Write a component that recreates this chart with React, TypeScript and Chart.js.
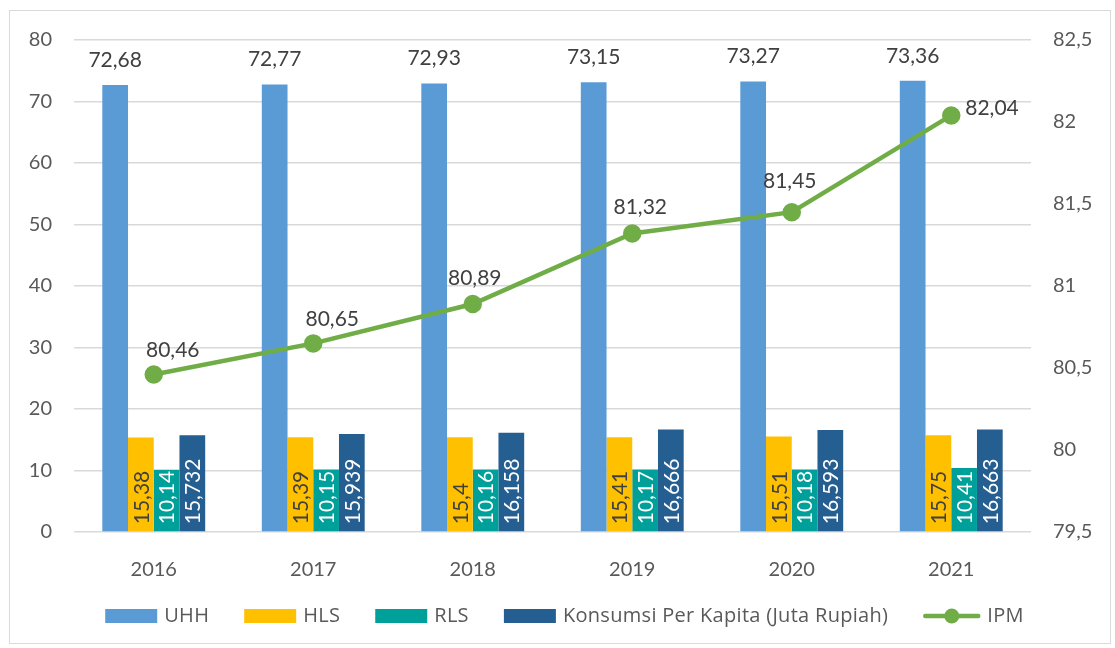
import React, { useEffect, useRef } from "react";
import { Chart, registerables } from "chart.js";
Chart.register(...registerables);

const years = ["2016", "2017", "2018", "2019", "2020", "2021"];
const uhh = [72.68, 72.77, 72.93, 73.15, 73.27, 73.36];
const hls = [15.38, 15.39, 15.4, 15.41, 15.51, 15.75];
const rls = [10.14, 10.15, 10.16, 10.17, 10.18, 10.41];
const konsumsi = [15.732, 15.939, 16.158, 16.666, 16.593, 16.663];
const ipm = [80.46, 80.65, 80.89, 81.32, 81.45, 82.04];

const leftMin = 0;
const leftMax = 80;
const leftStep = 10;
const rightMin = 79.5;
const rightMax = 82.5;
const rightStep = 0.5;

const FONT = "Lato, 'Open Sans', sans-serif";
const LEGEND_FONT = "'Open Sans', Lato, sans-serif";
const TICK_COLOR = "#595959";
const LABEL_COLOR = "#404040";

const fmt = (v: number) => String(v).replace(".", ",");

// label mode per dataset index
const labelModes = ["top", "baseDark", "baseLight", "baseLight", "line"];
// small nudges of the IPM labels (as placed in the original)
const ipmLabelDx = [19, 19, 2, 8, -2];
const ipmLabelDy = [-24, -24, -26, -26, -31];

const labelPlugin = {
  id: "valueLabels",
  afterDatasetsDraw(chart: any) {
    const ctx = chart.ctx;
    ctx.save();
    ctx.font = `21px ${FONT}`;
    chart.data.datasets.forEach((ds: any, di: number) => {
      const meta = chart.getDatasetMeta(di);
      const mode = labelModes[di];
      meta.data.forEach((el: any, i: number) => {
        const txt = fmt(ds.data[i]);
        if (mode === "top") {
          ctx.fillStyle = LABEL_COLOR;
          ctx.textAlign = "center";
          ctx.textBaseline = "middle";
          ctx.fillText(txt, el.x, el.y - 25);
        } else if (mode === "baseDark" || mode === "baseLight") {
          ctx.save();
          ctx.fillStyle = mode === "baseDark" ? LABEL_COLOR : "#ffffff";
          ctx.translate(el.x, el.base - 7);
          ctx.rotate(-Math.PI / 2);
          ctx.textAlign = "left";
          ctx.textBaseline = "middle";
          ctx.fillText(txt, 0, 1);
          ctx.restore();
        } else if (mode === "line") {
          ctx.fillStyle = LABEL_COLOR;
          ctx.textBaseline = "middle";
          if (i === meta.data.length - 1) {
            ctx.textAlign = "left";
            ctx.fillText(txt, el.x + 14, el.y - 7);
          } else {
            ctx.textAlign = "center";
            ctx.fillText(txt, el.x + (ipmLabelDx[i] ?? 0), el.y + (ipmLabelDy[i] ?? -25));
          }
        }
      });
    });
    ctx.restore();
  },
};

const legendPlugin = {
  id: "customLegend",
  afterDraw(chart: any) {
    const ctx = chart.ctx;
    ctx.save();
    ctx.font = `20px ${LEGEND_FONT}`;
    try { (ctx as any).letterSpacing = "0.3px"; } catch (e) {}
    const boxW = 52;
    const lineW = 57;
    const boxH = 14;
    const gapText = 7;
    const gapItem = 35;
    const items = chart.data.datasets.map((ds: any) => {
      const line = ds.type === "line";
      const kw = line ? lineW : boxW;
      return {
        label: ds.label,
        color: line ? ds.borderColor : ds.backgroundColor,
        line,
        kw,
        w: kw + gapText + ctx.measureText(ds.label).width,
      };
    });
    const total = items.reduce((s: number, it: any) => s + it.w, 0) + gapItem * (items.length - 1);
    let x = chart.width / 2 + 7 - total / 2;
    const y = 616;
    items.forEach((it: any) => {
      if (it.line) {
        ctx.strokeStyle = it.color;
        ctx.lineWidth = 4.5;
        ctx.lineCap = "round";
        ctx.beginPath();
        ctx.moveTo(x + 2, y);
        ctx.lineTo(x + it.kw - 2, y);
        ctx.stroke();
        ctx.fillStyle = it.color;
        ctx.beginPath();
        ctx.arc(x + it.kw / 2, y, 7.5, 0, Math.PI * 2);
        ctx.fill();
      } else {
        ctx.fillStyle = it.color;
        ctx.fillRect(x, y - boxH / 2, boxW, boxH);
      }
      ctx.fillStyle = TICK_COLOR;
      ctx.textAlign = "left";
      ctx.textBaseline = "middle";
      ctx.fillText(it.label, x + it.kw + gapText, y);
      x += it.w + gapItem;
    });
    ctx.restore();
  },
};

export default function App() {
  const ref = useRef<HTMLCanvasElement | null>(null);
  useEffect(() => {
    if (!ref.current) return;
    const chart = new Chart(ref.current, {
      type: "bar",
      data: {
        labels: years,
        datasets: [
          { type: "bar", label: "UHH", data: uhh, backgroundColor: "#5B9BD5", yAxisID: "y", order: 2 },
          { type: "bar", label: "HLS", data: hls, backgroundColor: "#FFC000", yAxisID: "y", order: 2 },
          { type: "bar", label: "RLS", data: rls, backgroundColor: "#00A09A", yAxisID: "y", order: 2 },
          { type: "bar", label: "Konsumsi Per Kapita (Juta Rupiah)", data: konsumsi, backgroundColor: "#255E91", yAxisID: "y", order: 2 },
          {
            type: "line",
            label: "IPM",
            data: ipm,
            borderColor: "#70AD47",
            backgroundColor: "#70AD47",
            borderWidth: 4.5,
            pointRadius: 7,
            pointBackgroundColor: "#70AD47",
            pointBorderColor: "#70AD47",
            yAxisID: "y1",
            order: 1,
          },
        ] as any,
      },
      options: {
        animation: false,
        responsive: false,
        maintainAspectRatio: false,
        layout: { padding: { left: 0, right: 14, top: 40, bottom: 56 } },
        datasets: { bar: { categoryPercentage: 0.645, barPercentage: 1 } } as any,
        plugins: {
          legend: { display: false },
          tooltip: { enabled: false },
        },
        scales: {
          x: {
            grid: { display: false },
            border: { display: false },
            ticks: { color: TICK_COLOR, font: { family: FONT, size: 20 }, padding: 18 },
            afterFit: (s: any) => { s.height = 60; },
          },
          y: {
            position: "left",
            min: leftMin,
            max: leftMax,
            ticks: { stepSize: leftStep, color: TICK_COLOR, font: { family: FONT, size: 20 }, padding: 22 },
            grid: { color: "#D9D9D9", lineWidth: 1.5, drawTicks: false },
            border: { display: false },
            afterFit: (s: any) => { s.width = 74; },
          },
          y1: {
            position: "right",
            min: rightMin,
            max: rightMax,
            ticks: {
              stepSize: rightStep,
              color: TICK_COLOR,
              font: { family: FONT, size: 20 },
              padding: 22,
              callback: (v: any) => fmt(Number(v)),
            },
            grid: { display: false, drawTicks: false },
            border: { display: false },
            afterFit: (s: any) => { s.width = 70; },
          },
        },
      } as any,
      plugins: [labelPlugin, legendPlugin],
    });
    return () => chart.destroy();
  }, []);

  return (
    <div style={{ position: "fixed", left: 0, top: 0, width: 1115, height: 648, background: "#fff" }}>
      <div
        style={{
          position: "absolute",
          left: 9,
          top: 10,
          width: 1102,
          height: 634,
          border: "1px solid #D9D9D9",
          boxSizing: "border-box",
        }}
      />
      <canvas ref={ref} width={1115} height={648} style={{ position: "absolute", left: 0, top: 0 }} />
    </div>
  );
}
